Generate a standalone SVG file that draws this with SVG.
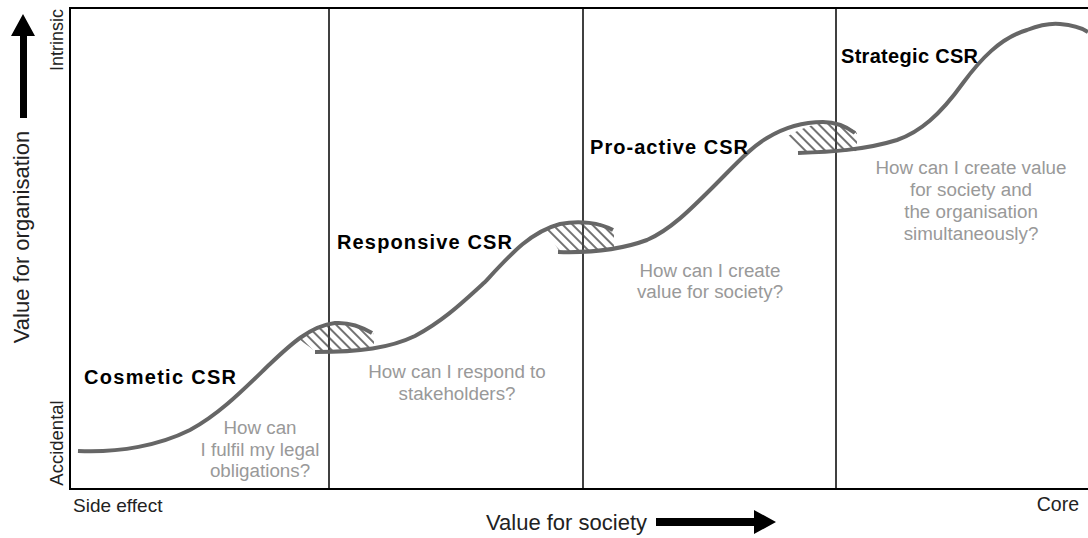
<svg xmlns="http://www.w3.org/2000/svg" width="1088" height="538" viewBox="0 0 1088 538">
<style>
.frame{stroke:#000;stroke-width:2;fill:none}
.div{stroke:#000;stroke-width:1.5;fill:none}
.curve{stroke:#666;stroke-width:4;fill:none;stroke-linecap:butt}
.title{font-family:"Liberation Sans",Arial,sans-serif;font-weight:bold;font-size:20px;fill:#000}
.q{font-family:"Liberation Sans",Arial,sans-serif;font-size:18.8px;fill:#999;text-anchor:middle}
.ax{font-family:"Liberation Sans",Arial,sans-serif;fill:#222}
</style>
<defs>
<pattern id="hatch" width="7" height="7" patternUnits="userSpaceOnUse" patternTransform="rotate(-45)">
<line x1="1" y1="0" x2="1" y2="7" stroke="#444" stroke-width="1.5"/>
</pattern>
</defs>
<rect width="1088" height="538" fill="#fff"/>
<g id="frame">
<path class="frame" d="M1088,8 H70 V489 H1088"/>
<line class="div" x1="329" y1="8" x2="329" y2="489"/>
<line class="div" x1="583" y1="8" x2="583" y2="489"/>
<line class="div" x1="836" y1="8" x2="836" y2="489"/>
</g>
<g id="axes">
<polygon points="23,14 35,36 27,36 27,118 20,118 20,36 11,36" fill="#000"/>
<text class="ax" font-size="22" transform="translate(29,237) rotate(-90)" text-anchor="middle">Value for organisation</text>
<text class="ax" font-size="18" transform="translate(63,40) rotate(-90)" text-anchor="middle">Intrinsic</text>
<text class="ax" font-size="18.5" transform="translate(63,443) rotate(-90)" text-anchor="middle">Accidental</text>
<text class="ax" font-size="19" x="73" y="512">Side effect</text>
<text class="ax" font-size="19.5" x="1079" y="511" text-anchor="end">Core</text>
<text class="ax" font-size="22" x="486" y="530">Value for society</text>
<polygon points="656,518 754,518 754,510 776,522 754,534 754,526 656,526" fill="#000"/>
</g>
<g id="hatches">
<path fill="url(#hatch)" d="M300,340 C315,328 330,324 340,324 C355,324 365,329 374,334 L374,348 L315,351 Z"/>
<path fill="url(#hatch)" d="M546,231 C560,224 575,222 590,222 C600,222 608,226 614,231 L614,250 L560,252 Z"/>
<path fill="url(#hatch)" d="M788,136 C805,126 818,123 830,123 C840,123 850,127 857,133 L857,151 L800,153 Z"/>
</g>
<g id="curves">
<path class="curve" d="M78,451 C120,453 160,445 190,430 C220,414 245,388 270,364 C290,345 310,326 335,323 C350,322 362,327 372,333"/>
<path class="curve" d="M315,352 C360,352 390,348 415,336 C445,320 465,300 485,282 C510,255 530,232 560,224 C580,220 600,223 613,230"/>
<path class="curve" d="M558,252 C590,253 620,250 647,240 C670,230 690,210 713,187 C735,165 750,148 767,138 C785,127 805,122 823,122 C838,122 847,127 855,133"/>
<path class="curve" d="M798,153 C830,152 865,150 897,140 C920,132 940,115 963,83 C980,60 1000,38 1027,30 C1040,25 1050,23 1060,24 C1072,25 1082,28 1088,32"/>
</g>
<g id="cosmetic">
<text class="title" x="84" y="384" textLength="152">Cosmetic CSR</text>
<text class="q" x="260" y="434">How can</text>
<text class="q" x="260" y="456">I fulfil my legal</text>
<text class="q" x="260" y="477">obligations?</text>
</g>
<g id="responsive">
<text class="title" x="337" y="249" textLength="175">Responsive CSR</text>
<text class="q" x="457" y="378">How can I respond to</text>
<text class="q" x="457" y="400">stakeholders?</text>
</g>
<g id="proactive">
<text class="title" x="590" y="154" textLength="158">Pro-active CSR</text>
<text class="q" x="710" y="277">How can I create</text>
<text class="q" x="710" y="298">value for society?</text>
</g>
<g id="strategic">
<text class="title" x="841" y="63" font-size="16.5" textLength="137">Strategic CSR</text>
<text class="q" x="971" y="174">How can I create value</text>
<text class="q" x="971" y="196">for society and</text>
<text class="q" x="971" y="218">the organisation</text>
<text class="q" x="971" y="240">simultaneously?</text>
</g>
</svg>
